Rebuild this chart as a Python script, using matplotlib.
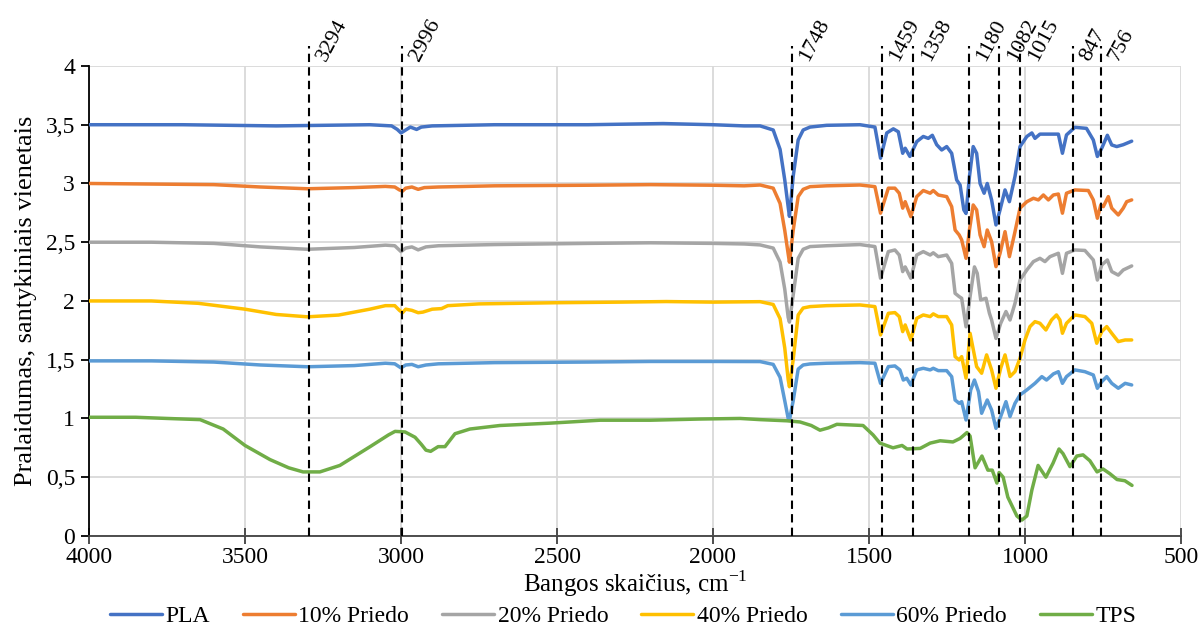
import matplotlib
matplotlib.use("Agg")
import matplotlib.pyplot as plt
import numpy as np
from matplotlib.ticker import FuncFormatter, MultipleLocator

plt.rcParams["font.family"] = ["Liberation Serif", "DejaVu Serif"]
plt.rcParams["mathtext.fontset"] = "custom"
plt.rcParams["mathtext.rm"] = "Liberation Serif"

# FTIR spectra: (wavenumber cm-1, relative transmittance, offset per sample)
PLA = [
    (4000, 3.50), (3700, 3.50), (3400, 3.49), (3100, 3.50), (3030, 3.49), (3012, 3.46),
    (3000, 3.43), (2988, 3.45), (2970, 3.48), (2950, 3.46), (2935, 3.48), (2900, 3.49),
    (2700, 3.50), (2400, 3.50), (2160, 3.51), (2000, 3.50), (1900, 3.49), (1849, 3.49),
    (1807, 3.455), (1785, 3.29), (1770, 3.03), (1759, 2.80), (1755, 2.72), (1743, 3.06),
    (1727, 3.37), (1711, 3.455), (1689, 3.48), (1636, 3.495), (1529, 3.50), (1481, 3.48),
    (1463, 3.215), (1443, 3.43), (1422, 3.465), (1406, 3.44), (1392, 3.257), (1384, 3.30),
    (1369, 3.23), (1347, 3.356), (1326, 3.40), (1310, 3.384), (1297, 3.41), (1283, 3.33),
    (1267, 3.285), (1251, 3.314), (1235, 3.257), (1219, 3.03), (1208, 2.987), (1196, 2.775),
    (1189, 2.745), (1178, 3.06), (1166, 3.314), (1155, 3.257), (1144, 3.0), (1131, 2.917),
    (1121, 3.0), (1107, 2.86), (1093, 2.647), (1080, 2.775), (1064, 2.945), (1050, 2.845),
    (1032, 3.06), (1016, 3.314), (994, 3.40), (978, 3.43), (968, 3.384), (952, 3.42),
    (920, 3.42), (893, 3.42), (880, 3.257), (867, 3.413), (840, 3.478), (803, 3.469),
    (781, 3.37), (768, 3.23), (754, 3.30), (736, 3.41), (722, 3.328), (706, 3.314),
    (685, 3.33), (658, 3.36),
]
PRIEDO_10 = [
    (4000, 3.00), (3800, 2.995), (3600, 2.99), (3450, 2.97), (3300, 2.955), (3150, 2.965),
    (3050, 2.975), (3020, 2.97), (3005, 2.945), (2995, 2.935), (2985, 2.96), (2965, 2.97),
    (2945, 2.95), (2925, 2.965), (2880, 2.97), (2700, 2.98), (2400, 2.985), (2200, 2.99),
    (2000, 2.985), (1900, 2.98), (1849, 2.987), (1807, 2.96), (1785, 2.83), (1770, 2.60),
    (1759, 2.40), (1755, 2.33), (1743, 2.60), (1727, 2.888), (1711, 2.95), (1689, 2.973),
    (1636, 2.98), (1529, 2.987), (1481, 2.973), (1463, 2.747), (1438, 2.96), (1417, 2.96),
    (1403, 2.917), (1392, 2.79), (1384, 2.845), (1366, 2.718), (1347, 2.888), (1326, 2.94),
    (1304, 2.917), (1294, 2.94), (1278, 2.902), (1251, 2.888), (1235, 2.803), (1224, 2.604),
    (1211, 2.562), (1203, 2.52), (1189, 2.363), (1178, 2.604), (1166, 2.817), (1155, 2.775),
    (1144, 2.562), (1131, 2.462), (1121, 2.604), (1107, 2.505), (1093, 2.292), (1080, 2.405),
    (1064, 2.59), (1050, 2.377), (1032, 2.59), (1016, 2.79), (994, 2.845), (973, 2.874),
    (957, 2.86), (941, 2.902), (925, 2.86), (909, 2.902), (893, 2.91), (880, 2.747),
    (867, 2.917), (840, 2.945), (797, 2.94), (781, 2.86), (768, 2.704), (757, 2.817),
    (749, 2.803), (733, 2.888), (722, 2.79), (701, 2.732), (685, 2.79), (674, 2.845),
    (658, 2.86),
]
PRIEDO_20 = [
    (4000, 2.50), (3800, 2.50), (3600, 2.49), (3450, 2.46), (3300, 2.44), (3150, 2.455),
    (3050, 2.475), (3020, 2.47), (3000, 2.42), (2985, 2.45), (2965, 2.46), (2945, 2.435),
    (2920, 2.46), (2880, 2.47), (2700, 2.48), (2400, 2.49), (2200, 2.495), (2000, 2.49),
    (1900, 2.485), (1849, 2.477), (1807, 2.45), (1785, 2.33), (1770, 2.10), (1759, 1.86),
    (1755, 1.82), (1743, 2.05), (1727, 2.363), (1711, 2.44), (1689, 2.463), (1636, 2.47),
    (1529, 2.48), (1481, 2.463), (1463, 2.193), (1438, 2.42), (1417, 2.434), (1403, 2.391),
    (1392, 2.25), (1384, 2.29), (1366, 2.193), (1347, 2.391), (1326, 2.42), (1304, 2.391),
    (1294, 2.41), (1278, 2.377), (1251, 2.391), (1235, 2.32), (1224, 2.065), (1211, 2.037),
    (1203, 2.023), (1189, 1.78), (1176, 2.037), (1162, 2.29), (1153, 2.235), (1142, 2.009),
    (1125, 2.023), (1114, 1.895), (1107, 1.838), (1093, 1.681), (1078, 1.809), (1061, 1.91),
    (1048, 1.838), (1032, 1.98), (1016, 2.178), (994, 2.264), (973, 2.335), (952, 2.363),
    (936, 2.335), (920, 2.377), (893, 2.406), (880, 2.235), (867, 2.406), (840, 2.434),
    (808, 2.43), (781, 2.349), (768, 2.178), (754, 2.306), (736, 2.349), (722, 2.25),
    (701, 2.22), (685, 2.264), (658, 2.298),
]
PRIEDO_40 = [
    (4000, 2.00), (3800, 2.00), (3650, 1.98), (3500, 1.93), (3400, 1.885), (3300, 1.865),
    (3200, 1.88), (3100, 1.93), (3050, 1.96), (3020, 1.96), (3005, 1.92), (2995, 1.90),
    (2985, 1.93), (2965, 1.92), (2945, 1.90), (2930, 1.905), (2900, 1.93), (2870, 1.935),
    (2850, 1.96), (2750, 1.975), (2500, 1.985), (2300, 1.99), (2150, 1.995), (2000, 1.99),
    (1849, 1.994), (1807, 1.97), (1785, 1.85), (1770, 1.60), (1759, 1.33), (1755, 1.27),
    (1743, 1.50), (1727, 1.881), (1711, 1.94), (1689, 1.952), (1636, 1.96), (1529, 1.966),
    (1481, 1.952), (1463, 1.711), (1438, 1.895), (1417, 1.901), (1403, 1.867), (1392, 1.739),
    (1384, 1.796), (1366, 1.668), (1347, 1.852), (1326, 1.881), (1304, 1.867), (1294, 1.89),
    (1278, 1.867), (1251, 1.867), (1235, 1.796), (1224, 1.526), (1211, 1.498), (1203, 1.526),
    (1189, 1.343), (1176, 1.725), (1155, 1.441), (1139, 1.385), (1123, 1.541), (1107, 1.413),
    (1093, 1.257), (1078, 1.427), (1064, 1.541), (1048, 1.357), (1032, 1.399), (1016, 1.512),
    (1000, 1.668), (984, 1.782), (968, 1.824), (952, 1.81), (933, 1.753), (915, 1.838),
    (899, 1.881), (888, 1.838), (880, 1.725), (867, 1.81), (840, 1.881), (808, 1.867),
    (786, 1.81), (770, 1.64), (754, 1.739), (738, 1.782), (722, 1.725), (701, 1.654),
    (679, 1.668), (658, 1.668),
]
PRIEDO_60 = [
    (4000, 1.49), (3800, 1.49), (3600, 1.48), (3450, 1.455), (3300, 1.44), (3150, 1.45),
    (3050, 1.47), (3020, 1.465), (3000, 1.43), (2985, 1.455), (2965, 1.46), (2945, 1.44),
    (2920, 1.455), (2880, 1.465), (2700, 1.475), (2400, 1.48), (2200, 1.485), (2000, 1.485),
    (1849, 1.484), (1807, 1.46), (1785, 1.35), (1770, 1.15), (1759, 1.00), (1755, 0.985),
    (1743, 1.15), (1727, 1.42), (1711, 1.455), (1689, 1.464), (1636, 1.47), (1529, 1.475),
    (1481, 1.47), (1463, 1.299), (1438, 1.441), (1417, 1.447), (1401, 1.413), (1390, 1.327),
    (1379, 1.342), (1366, 1.285), (1347, 1.413), (1326, 1.427), (1304, 1.413), (1294, 1.427),
    (1278, 1.407), (1251, 1.407), (1235, 1.356), (1224, 1.157), (1211, 1.129), (1203, 1.143),
    (1189, 0.987), (1174, 1.243), (1162, 1.327), (1149, 1.228), (1139, 1.044), (1121, 1.157),
    (1107, 1.072), (1093, 0.916), (1078, 1.016), (1061, 1.143), (1048, 1.016), (1032, 1.129),
    (1016, 1.20), (994, 1.243), (968, 1.299), (946, 1.356), (931, 1.327), (909, 1.379),
    (893, 1.398), (880, 1.299), (867, 1.356), (840, 1.413), (808, 1.398), (781, 1.37),
    (768, 1.257), (754, 1.313), (738, 1.356), (722, 1.299), (701, 1.257), (679, 1.299),
    (658, 1.285),
]
TPS = [
    (4000, 1.01), (3850, 1.01), (3750, 1.00), (3644, 0.99), (3570, 0.91), (3500, 0.77),
    (3420, 0.65), (3360, 0.58), (3314, 0.545), (3260, 0.545), (3196, 0.60), (3099, 0.76),
    (3040, 0.86), (3019, 0.89), (2987, 0.885), (2955, 0.84), (2935, 0.78), (2920, 0.73),
    (2905, 0.72), (2881, 0.76), (2859, 0.76), (2827, 0.87), (2779, 0.91), (2683, 0.94),
    (2522, 0.96), (2362, 0.985), (2200, 0.985), (2042, 0.995), (1913, 1.00), (1849, 0.99),
    (1763, 0.98), (1721, 0.97), (1685, 0.94), (1657, 0.90), (1630, 0.92), (1603, 0.95),
    (1519, 0.94), (1487, 0.86), (1465, 0.79), (1423, 0.75), (1394, 0.77), (1378, 0.74),
    (1336, 0.745), (1304, 0.79), (1272, 0.81), (1231, 0.80), (1208, 0.83), (1186, 0.88),
    (1176, 0.85), (1160, 0.58), (1138, 0.68), (1119, 0.56), (1105, 0.56), (1090, 0.45),
    (1083, 0.54), (1070, 0.50), (1055, 0.33), (1026, 0.17), (1010, 0.135), (994, 0.17),
    (978, 0.39), (958, 0.60), (933, 0.50), (910, 0.62), (891, 0.74), (878, 0.70),
    (856, 0.59), (834, 0.68), (814, 0.69), (792, 0.64), (769, 0.545), (750, 0.57),
    (728, 0.53), (705, 0.48), (680, 0.47), (657, 0.43),
]

SERIES = [
    ("PLA", PLA, "#4472C4"),
    ("10% Priedo", PRIEDO_10, "#ED7D31"),
    ("20% Priedo", PRIEDO_20, "#A5A5A5"),
    ("40% Priedo", PRIEDO_40, "#FFC000"),
    ("60% Priedo", PRIEDO_60, "#5B9BD5"),
    ("TPS", TPS, "#70AD47"),
]

# characteristic bands marked with dashed lines
PEAKS = [3294, 2996, 1748, 1459, 1358, 1180, 1082, 1015, 847, 756]

fig = plt.figure(figsize=(11.98, 6.32), dpi=100)
ax = fig.add_axes([0.0743, 0.152, 0.9115, 0.7436])

for label, data, color in SERIES:
    arr = np.array(data)
    ax.plot(arr[:, 0], arr[:, 1], color=color, lw=2.5, label=label,
            solid_joinstyle="round", solid_capstyle="round", zorder=3)

for p in PEAKS:
    ax.plot([p, p], [0, 4.17], color="black", lw=1.5, ls=(0, (4, 2.5)),
            clip_on=False, zorder=4)
    ax.annotate(str(p), xy=(p, 4.0), xytext=(12, 3), textcoords="offset points",
                rotation=62, rotation_mode="anchor", ha="left", va="baseline",
                fontsize=16, annotation_clip=False)

ax.set_xlim(4000, 500)
ax.set_ylim(0, 4)
ax.xaxis.set_major_locator(MultipleLocator(500))
ax.yaxis.set_major_locator(MultipleLocator(0.5))
ax.yaxis.set_major_formatter(FuncFormatter(lambda v, _: f"{v:g}".replace(".", ",")))
ax.grid(True, color="#d9d9d9", lw=1.3, zorder=0)
ax.set_axisbelow(True)

for side in ("top", "right"):
    ax.spines[side].set_visible(False)
ax.spines["left"].set_color("black")
ax.spines["bottom"].set_color("#404040")
ax.spines["left"].set_linewidth(1.3)
ax.spines["bottom"].set_linewidth(1.3)
ax.tick_params(axis="y", direction="out", length=6, width=1.3, labelsize=17, pad=4)
ax.tick_params(axis="x", direction="inout", length=12, width=1.3, labelsize=17,
               color="#404040", pad=2)

ax.set_xlabel(r"Bangos skaičius, cm$^{\mathregular{-1}}$", fontsize=18, labelpad=0)
ax.set_ylabel("Pralaidumas, santykiniais vienetais", fontsize=19, labelpad=6)

fig.legend(loc="center", bbox_to_anchor=(0.52, 0.025), ncol=6, frameon=False,
           fontsize=17, handlelength=2.2, handletextpad=0.15, columnspacing=1.4,
           borderpad=0.1)

fig.savefig("out.png", dpi=100)
